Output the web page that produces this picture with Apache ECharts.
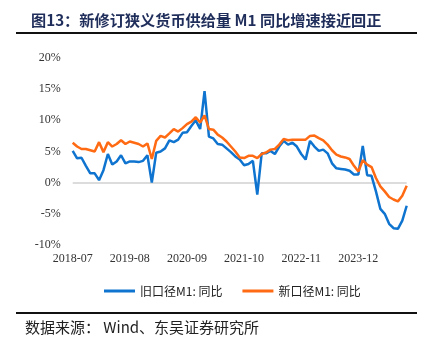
<!DOCTYPE html>
<html>
<head>
<meta charset="utf-8">
<script src="https://cdn.jsdelivr.net/npm/echarts@6/dist/echarts.min.js"></script>
<style>
  html, body { margin: 0; padding: 0; background: #fff; }
  #main { width: 434px; height: 351px; }
</style>
</head>
<body>
<div id="main"></div>
<script>
// 月份 2018-07 ~ 2024-11
var months = []
for (var y = 2018, m = 7; months.length < 77; m++) {
    if (m > 12) { m = 1; y++ }
    months.push(y + '-' + (m < 10 ? '0' + m : m))
}

// 旧口径M1同比（%）
var oldM1 = [
    5.1, 3.9, 4.0, 2.7, 1.5, 1.5,
    0.4, 2.0, 4.6, 2.9, 3.4, 4.4, 3.1, 3.4, 3.4, 3.3, 3.5, 4.4,
    0.0, 4.8, 5.0, 5.5, 6.8, 6.5, 6.9, 8.0, 8.1, 9.1, 10.0, 8.6,
    14.7, 7.4, 7.1, 6.2, 6.1, 5.5, 4.9, 4.2, 3.7, 2.8, 3.0, 3.5,
    -1.9, 4.7, 4.7, 5.1, 4.6, 5.8, 6.7, 6.1, 6.4, 5.8, 4.6, 3.7,
    6.7, 5.8, 5.1, 5.3, 4.7, 3.1, 2.3, 2.2, 2.1, 1.9, 1.3, 1.3,
    5.9, 1.2, 1.1, -1.4, -4.2, -5.0, -6.6, -7.3, -7.4, -6.1, -3.7
]

// 新口径M1同比（%）
var newM1 = [
    6.4, 5.8, 5.4, 5.4, 5.2, 5.0,
    6.5, 4.9, 6.5, 5.8, 6.2, 6.8, 6.2, 6.6, 6.4, 6.2, 5.8, 6.3,
    3.8, 6.7, 7.5, 7.25, 7.9, 8.6, 8.2, 8.75, 9.4, 9.8, 10.5, 9.65,
    10.8, 8.6, 8.5, 7.7, 7.25, 6.6, 5.8, 5.0, 4.05, 3.95, 4.3, 4.3,
    3.95, 4.6, 4.85, 5.3, 5.4, 6.1, 7.0, 6.8, 6.9, 6.9, 6.9, 6.9,
    7.5, 7.55, 7.15, 6.8, 6.1, 5.2, 4.5, 4.2, 4.05, 3.8, 2.7, 1.8,
    3.6, 2.9, 2.5, 0.75, -0.6, -1.4, -2.3, -2.7, -3.0, -2.1, -0.5
]

var seriesNames = ['旧口径M1: 同比', '新口径M1: 同比']
var cjk = 'Noto Sans CJK SC'
var serif = 'Liberation Serif'

var myChart = echarts.init(document.getElementById('main'))
var option = {
    animation: false,
    color: ['#0F74CF', '#FF6A12'],
    title: {
        text: '图13：新修订狭义货币供给量 M1 同比增速接近回正',
        left: 26,
        top: 8,
        textStyle: {
            fontFamily: cjk,
            fontSize: 15.2,
            fontWeight: 'bold',
            color: '#1f2d5a'
        }
    },
    graphic: [
        { type: 'rect', shape: { x: 16, y: 32, width: 401, height: 2 }, style: { fill: '#111' } },
        { type: 'rect', shape: { x: 16, y: 312, width: 401, height: 2 }, style: { fill: '#111' } },
        {
            type: 'text',
            left: 25,
            top: 320,
            style: {
                text: '数据来源： Wind、东吴证券研究所',
                font: '15px "Noto Sans CJK SC"',
                fill: '#222'
            }
        }
    ],
    legend: {
        left: 99,
        top: 280,
        icon: 'rect',
        itemWidth: 31,
        itemHeight: 3,
        itemGap: 20,
        textStyle: { fontFamily: cjk, fontSize: 12, color: '#222' },
        data: seriesNames
    },
    grid: {
        left: 72.7,
        right: 27.3,
        top: 58,
        height: 187
    },
    xAxis: {
        type: 'category',
        boundaryGap: false,
        data: months,
        axisLine: { show: false },
        axisTick: { show: false },
        axisLabel: {
            interval: 12,
            margin: 8,
            fontFamily: serif,
            fontSize: 12,
            color: '#333'
        }
    },
    yAxis: {
        type: 'value',
        min: -10,
        max: 20,
        interval: 5,
        axisLine: { show: false },
        axisTick: { show: false },
        axisLabel: {
            margin: 12,
            fontFamily: serif,
            fontSize: 12,
            color: '#333',
            formatter: '{value}%'
        },
        splitLine: {
            show: true,
            lineStyle: {
                width: 2,
                color: ['transparent', 'transparent', '#dcdcdc', 'transparent', 'transparent', 'transparent', 'transparent']
            }
        }
    },
    series: [
        {
            name: seriesNames[0],
            type: 'line',
            symbol: 'none',
            lineStyle: { width: 2.5 },
            data: oldM1
        },
        {
            name: seriesNames[1],
            type: 'line',
            symbol: 'none',
            lineStyle: { width: 2.5 },
            data: newM1
        }
    ]
}
myChart.setOption(option)
</script>
</body>
</html>
